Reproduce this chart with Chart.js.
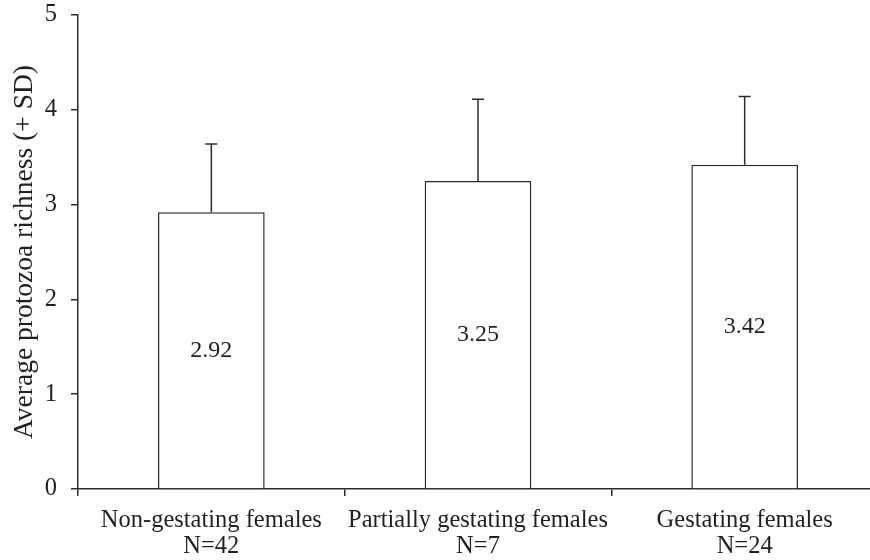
<!DOCTYPE html>
<html>
<head>
<meta charset="utf-8">
<script src="https://cdn.jsdelivr.net/npm/chart.js@4.4.1/dist/chart.umd.min.js"></script>
<style>
  html, body { margin: 0; padding: 0; background: #fff; overflow: hidden; }
  #wrap { width: 880px; height: 560px; }
</style>
</head>
<body>
<div id="wrap"><canvas id="c" width="880" height="560"></canvas></div>
<script>
const categories = [
  ["Non-gestating females", "N=42"],
  ["Partially gestating females", "N=7"],
  ["Gestating females", "N=24"]
];
const means = [2.92, 3.25, 3.42];
const sds = [0.72, 0.86, 0.72];
const valueLabels = ["2.92", "3.25", "3.42"];
const yTicks = [0, 1, 2, 3, 4, 5];

const FONT = "'Liberation Serif', 'Times New Roman', serif";
const INK = '#231f20';
const LINE = '#2b2b2b';

const barExtras = {
  id: 'barExtras',
  afterDatasetsDraw(chart) {
    const ctx = chart.ctx;
    const meta = chart.getDatasetMeta(0);
    const y = chart.scales.y;
    ctx.save();
    meta.data.forEach((bar, i) => {
      const top = y.getPixelForValue(means[i] + sds[i]);
      const barTop = y.getPixelForValue(means[i]);
      ctx.strokeStyle = LINE;
      ctx.lineWidth = 1.5;
      ctx.beginPath();
      ctx.moveTo(bar.x, barTop);
      ctx.lineTo(bar.x, top);
      ctx.moveTo(bar.x - 6, top);
      ctx.lineTo(bar.x + 6, top);
      ctx.stroke();
      const base = y.getPixelForValue(0);
      ctx.fillStyle = INK;
      ctx.font = "24px " + FONT;
      ctx.textAlign = 'center';
      ctx.textBaseline = 'middle';
      ctx.fillText(valueLabels[i], bar.x, (barTop + base) / 2);
    });
    ctx.restore();
  }
};

new Chart(document.getElementById('c'), {
  type: 'bar',
  data: {
    labels: categories,
    datasets: [{
      data: means,
      backgroundColor: '#ffffff',
      borderColor: LINE,
      borderWidth: 1.5,
      barPercentage: 0.4,
      categoryPercentage: 1.0
    }]
  },
  options: {
    responsive: false,
    animation: false,
    events: [],
    layout: { padding: { top: 15, right: 2, left: 0, bottom: 0 } },
    plugins: { legend: { display: false }, tooltip: { enabled: false } },
    scales: {
      x: {
        offset: true,
        grid: { display: true, drawOnChartArea: false, offset: true, tickLength: 7, color: LINE, lineWidth: 1.5 },
        border: { display: true, color: LINE, width: 1.5 },
        ticks: { color: INK, font: { family: FONT, size: 24.5, lineHeight: 1.07 }, padding: 11, maxRotation: 0, autoSkip: false },
        afterFit(scale) { scale.height = 71; scale.paddingLeft = 0; scale.paddingRight = 0; }
      },
      y: {
        min: 0, max: 5,
        afterBuildTicks(scale) { scale.ticks = yTicks.map(v => ({ value: v })); },
        grid: { display: true, drawOnChartArea: false, tickLength: 7, color: LINE, lineWidth: 1.5 },
        border: { display: true, color: LINE, width: 1.5 },
        ticks: { color: INK, font: { family: FONT, size: 24.5 }, padding: 14 },
        title: { display: true, text: 'Average protozoa richness (+ SD)', color: INK, font: { family: FONT, size: 27.5 }, padding: { top: 8, bottom: 0 } },
        afterFit(scale) { scale.width = 78; scale.paddingTop = 0; scale.paddingBottom = 0; }
      }
    }
  },
  plugins: [barExtras]
});
</script>
</body>
</html>
